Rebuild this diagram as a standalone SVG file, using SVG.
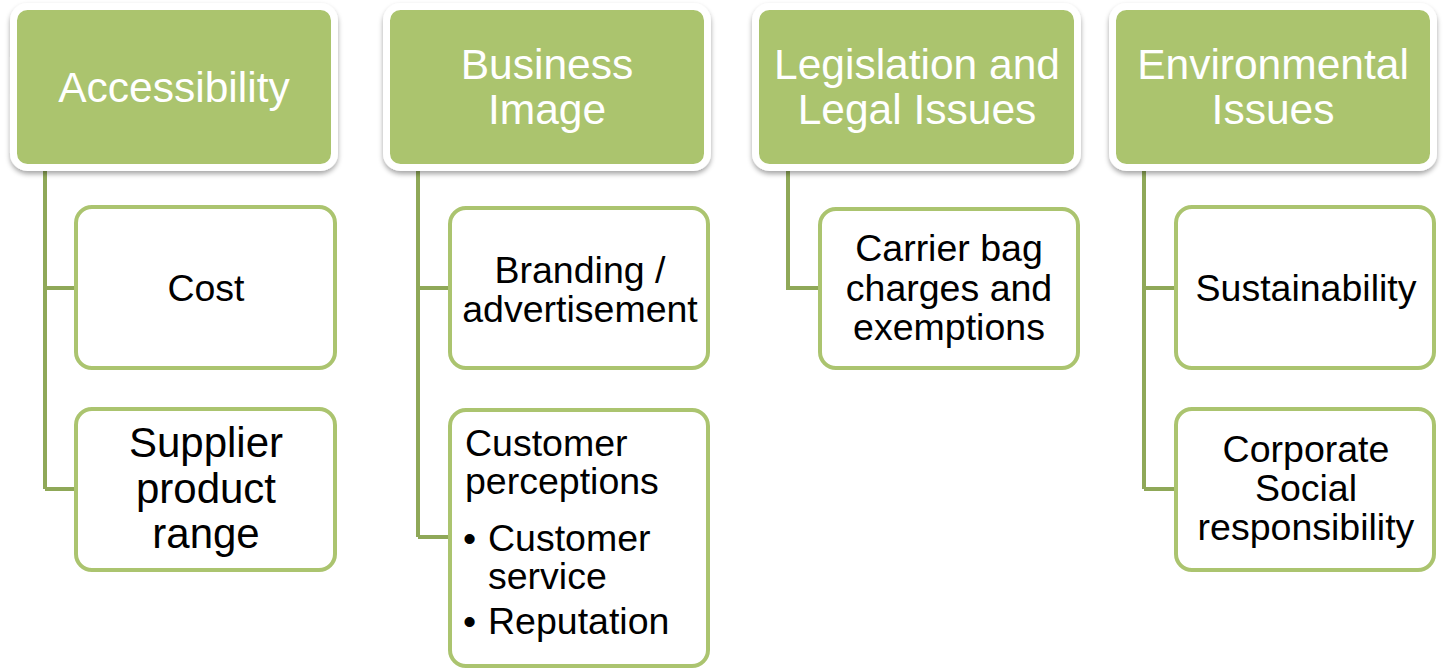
<svg xmlns="http://www.w3.org/2000/svg" width="1446" height="668" viewBox="0 0 1446 668">
  <defs>
    <filter id="shadow" x="-10%" y="-10%" width="120%" height="130%">
      <feDropShadow dx="0" dy="3" stdDeviation="2.5" flood-color="#000" flood-opacity="0.35"/>
    </filter>
  </defs>
  <style>
    .head { fill: #abc46e; stroke: #ffffff; stroke-width: 7; filter: url(#shadow); }
    .child { fill: #ffffff; stroke: #abc46f; stroke-width: 4; }
    .link { fill: none; stroke: #8fa858; stroke-width: 4; }
    .ht { font-family: "Liberation Sans", Arial, sans-serif; font-size: 42.5px; fill: #ffffff; text-anchor: middle; }
    .ct { font-family: "Liberation Sans", Arial, sans-serif; font-size: 37.5px; fill: #000000; text-anchor: middle; }
    .cl { font-family: "Liberation Sans", Arial, sans-serif; font-size: 37.5px; fill: #000000; }
  </style>
  <rect width="1446" height="668" fill="#ffffff"/>

  <!-- connectors from each heading down to its items -->
  <g id="connectors">
    <path class="link" d="M45,168 V489 M45,288 H76 M45,489 H76"/>
    <path class="link" d="M418,168 V537 M418,288 H448 M418,537 H448"/>
    <path class="link" d="M788,168 V288 H818"/>
    <path class="link" d="M1144,168 V489 M1144,288 H1174 M1144,489 H1174"/>
  </g>

  <!-- column 1 -->
  <g id="accessibility">
    <rect class="head" x="13.5" y="6.5" width="321" height="161" rx="14"/>
    <text class="ht" x="174" y="102">Accessibility</text>
  </g>
  <g id="cost">
    <rect class="child" x="76" y="207" width="259" height="161" rx="16"/>
    <text class="ct" x="206" y="301">Cost</text>
  </g>
  <g id="supplier">
    <rect class="child" x="76" y="409" width="259" height="161" rx="16"/>
    <text class="ct" x="206" y="457" style="font-size:42px">Supplier</text>
    <text class="ct" x="206" y="503" style="font-size:42px">product</text>
    <text class="ct" x="206" y="548" style="font-size:42px">range</text>
  </g>

  <!-- column 2 -->
  <g id="business-image">
    <rect class="head" x="386.5" y="6.5" width="321" height="161" rx="14"/>
    <text class="ht" x="547" y="79">Business</text>
    <text class="ht" x="547" y="124">Image</text>
  </g>
  <g id="branding">
    <rect class="child" x="450" y="208" width="258" height="160" rx="16"/>
    <text class="ct" x="580" y="283">Branding /</text>
    <text class="ct" x="580" y="322">advertisement</text>
  </g>
  <g id="perceptions">
    <rect class="child" x="450" y="410" width="258" height="256" rx="16"/>
    <text class="cl" x="465" y="456">Customer</text>
    <text class="cl" x="465" y="494">perceptions</text>
    <text class="cl" x="463" y="551">•</text>
    <text class="cl" x="488" y="551">Customer</text>
    <text class="cl" x="488" y="589">service</text>
    <text class="cl" x="463" y="634">•</text>
    <text class="cl" x="488" y="634">Reputation</text>
  </g>

  <!-- column 3 -->
  <g id="legislation">
    <rect class="head" x="755.5" y="6.5" width="322" height="161" rx="14"/>
    <text class="ht" x="917" y="79">Legislation and</text>
    <text class="ht" x="917" y="124">Legal Issues</text>
  </g>
  <g id="carrier-bag">
    <rect class="child" x="820" y="209" width="258" height="159" rx="16"/>
    <text class="ct" x="949" y="261">Carrier bag</text>
    <text class="ct" x="949" y="301">charges and</text>
    <text class="ct" x="949" y="340">exemptions</text>
  </g>

  <!-- column 4 -->
  <g id="environmental">
    <rect class="head" x="1112.5" y="6.5" width="321" height="161" rx="14"/>
    <text class="ht" x="1273" y="79">Environmental</text>
    <text class="ht" x="1273" y="124">Issues</text>
  </g>
  <g id="sustainability">
    <rect class="child" x="1176" y="207" width="258" height="161" rx="16"/>
    <text class="ct" x="1306" y="301">Sustainability</text>
  </g>
  <g id="csr">
    <rect class="child" x="1176" y="409" width="258" height="161" rx="16"/>
    <text class="ct" x="1306" y="462">Corporate</text>
    <text class="ct" x="1306" y="501">Social</text>
    <text class="ct" x="1306" y="540">responsibility</text>
  </g>
</svg>
